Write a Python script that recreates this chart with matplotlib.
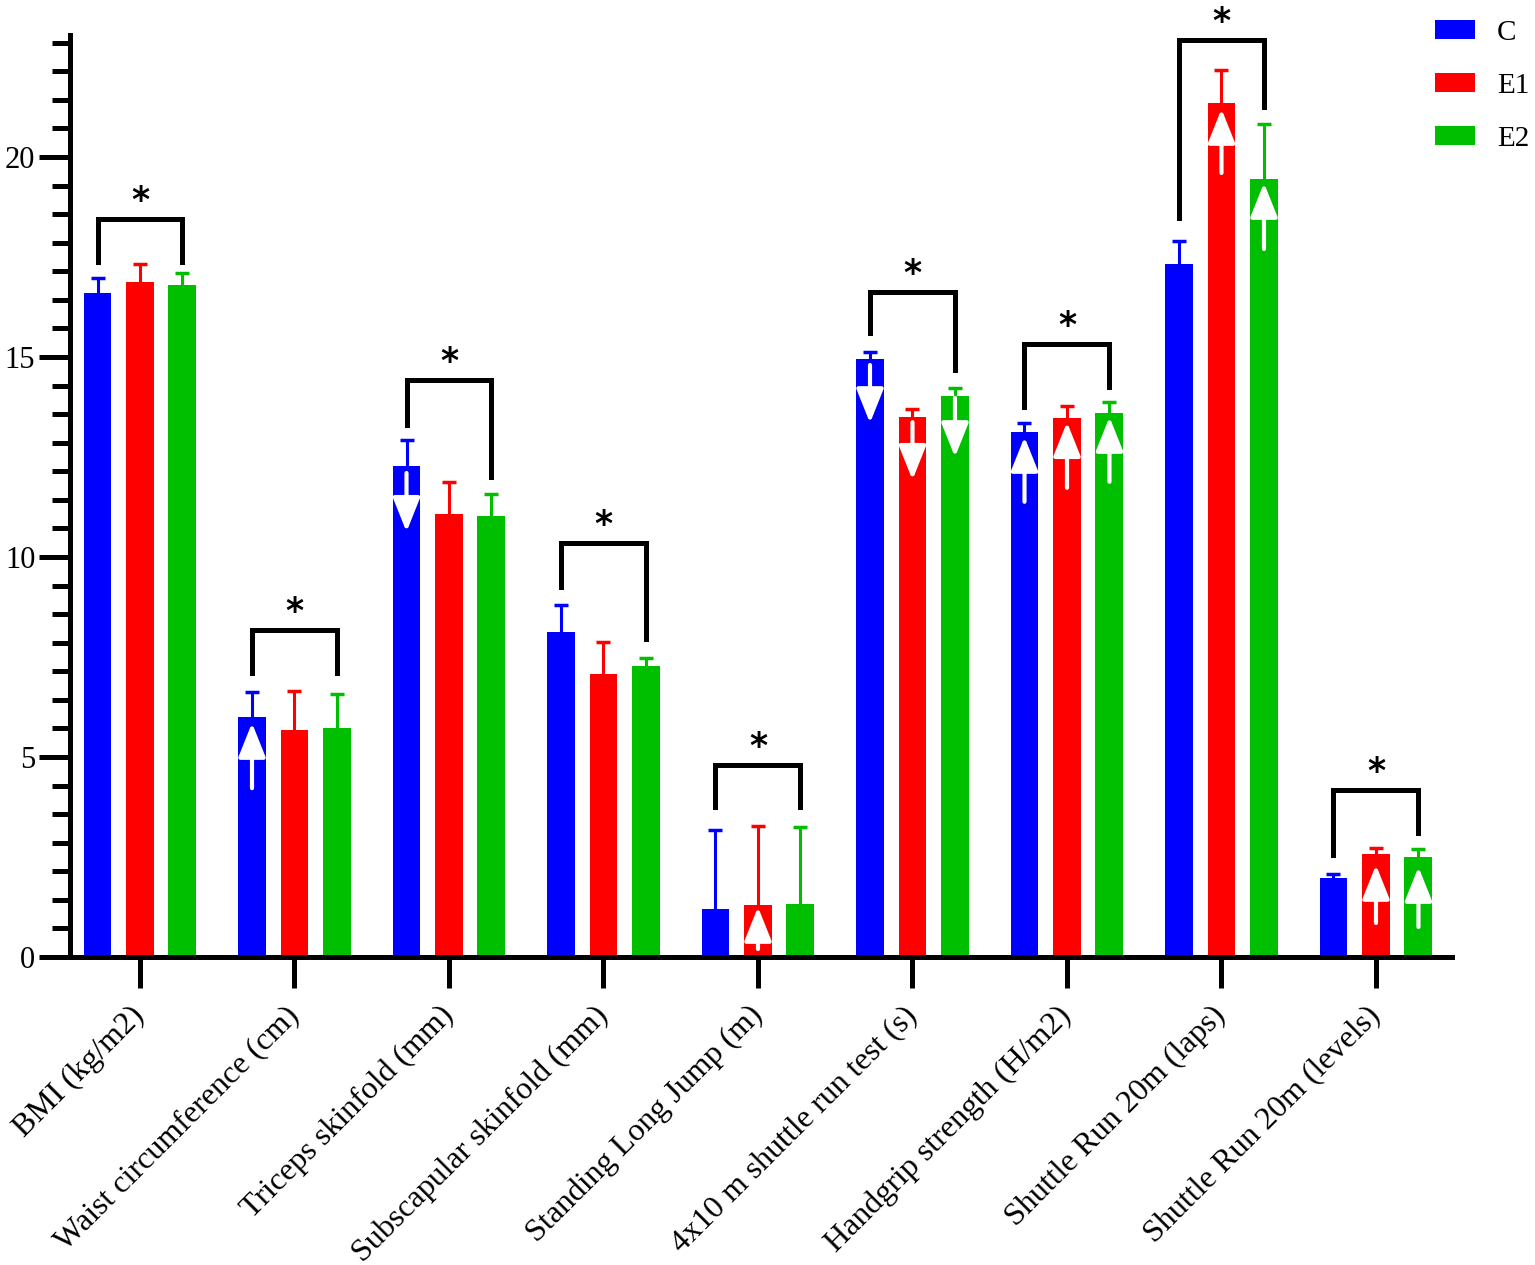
import matplotlib
matplotlib.use("Agg")
import matplotlib.pyplot as plt
from matplotlib.ticker import MultipleLocator
from matplotlib.patches import Patch
import numpy as np

plt.rcParams["font.family"] = ["Liberation Serif", "DejaVu Serif"]

categories = ["BMI (kg/m2)", "Waist circumference (cm)", "Triceps skinfold (mm)",
              "Subscapular skinfold (mm)", "Standing Long Jump (m)",
              "4x10 m shuttle run test (s)", "Handgrip strength (H/m2)",
              "Shuttle Run 20m (laps)", "Shuttle Run 20m (levels)"]
groups = ["C", "E1", "E2"]

mean_c = [16.6, 6.0, 12.28, 8.13, 1.2, 14.95, 13.13, 17.33, 1.97]
mean_e1 = [16.88, 5.68, 11.08, 7.08, 1.3, 13.5, 13.48, 21.35, 2.58]
mean_e2 = [16.8, 5.73, 11.03, 7.28, 1.33, 14.03, 13.6, 19.45, 2.5]

sd_c = [0.38, 0.63, 0.65, 0.67, 1.98, 0.18, 0.22, 0.57, 0.11]
sd_e1 = [0.45, 0.97, 0.8, 0.8, 1.98, 0.2, 0.3, 0.83, 0.14]
sd_e2 = [0.3, 0.85, 0.55, 0.2, 1.92, 0.2, 0.28, 1.38, 0.2]

# significance brackets (C vs E2): top value and leg ends
bracket_top = [18.45, 8.18, 14.43, 10.35, 4.8, 16.63, 15.33, 22.93, 4.18]
bracket_left = [17.38, 7.1, 13.3, 9.25, 3.75, 15.6, 13.75, 18.48, 2.55]
bracket_right = [17.38, 7.1, 12.0, 7.95, 3.75, 14.68, 14.25, 21.25, 3.1]

# white direction arrows inside bars: group, series, from value, to value
arrow_group = [1, 2, 4, 5, 5, 5, 6, 6, 6, 7, 7, 8, 8]
arrow_series = [0, 0, 1, 0, 1, 2, 0, 1, 2, 1, 2, 1, 2]
arrow_from = [4.22, 12.1, 0.2, 14.8, 13.37, 13.98, 11.38, 11.73, 11.88, 19.6, 17.7, 0.85, 0.75]
arrow_to = [5.85, 10.63, 1.25, 13.35, 11.93, 12.5, 13.0, 13.37, 13.5, 21.2, 19.35, 2.3, 2.25]

colors = ["#0000ff", "#ff0000", "#00bf00"]

means = [mean_c, mean_e1, mean_e2]
sds = [sd_c, sd_e1, sd_e2]

fig = plt.figure(figsize=(15.35, 12.65), dpi=100)
ax = fig.add_axes([70 / 1535, 1 - 957 / 1265, 1382 / 1535, 922 / 1265])

x = np.arange(len(categories))
offset = 0.275
width = 0.181

for i in range(3):
    xs = x + (i - 1) * offset
    ax.bar(xs, means[i], width=width, color=colors[i], zorder=2)
    eb = ax.errorbar(xs, means[i], yerr=[np.zeros(len(x)), sds[i]], fmt="none",
                     ecolor=colors[i], elinewidth=2.2, capsize=4.8, capthick=2.5, zorder=1)
    eb[1][0].set_visible(False)

for k in range(len(arrow_group)):
    ax_x = arrow_group[k] + (arrow_series[k] - 1) * offset
    ax.annotate("", xy=(ax_x, arrow_to[k]), xytext=(ax_x, arrow_from[k]),
                arrowprops=dict(arrowstyle="-|>,head_width=0.42,head_length=1.05",
                                color="white", lw=3, shrinkA=0, shrinkB=0,
                                mutation_scale=20), zorder=3)

for g in range(len(categories)):
    xl = g - offset
    xr = g + offset
    ax.plot([xl, xl, xr, xr], [bracket_left[g], bracket_top[g], bracket_top[g], bracket_right[g]],
            color="black", lw=3.6, solid_joinstyle="miter", zorder=4, clip_on=False)
    ax.text(g, bracket_top[g] + 0.2, "*", ha="center", va="baseline",
            fontsize=25, fontweight="bold", family="DejaVu Sans", clip_on=False)

ax.set_xlim(-0.453, 8.492)
ax.set_ylim(0, 23.05)
ax.yaxis.set_major_locator(MultipleLocator(5))
ax.yaxis.set_minor_locator(MultipleLocator(5 / 7))
ax.set_yticks([0, 5, 10, 15, 20])
ax.set_yticklabels(["0", "5", "10", "15", "20"], fontsize=22)
ax.set_xticks(x)
ax.set_xticklabels(categories, fontsize=23, rotation=45, ha="right",
                   va="center", rotation_mode="anchor")

ax.tick_params(axis="y", which="major", length=22, width=3.6, pad=3)
ax.tick_params(axis="y", which="minor", length=13, width=3.6)
ax.tick_params(axis="x", which="major", length=22, width=3.6, pad=17)

for side in ["top", "right"]:
    ax.spines[side].set_visible(False)
for side in ["left", "bottom"]:
    ax.spines[side].set_linewidth(3.6)

handles = [Patch(facecolor=colors[i], label=groups[i]) for i in range(3)]
fig.legend(handles=handles, loc="upper left", bbox_to_anchor=(1435 / 1535, 1 - 20 / 1265),
           frameon=False, fontsize=21, handlelength=1.38, handleheight=0.65,
           handletextpad=0.75, labelspacing=0.92, borderpad=0, borderaxespad=0)

fig.savefig("out.png", dpi=100)
